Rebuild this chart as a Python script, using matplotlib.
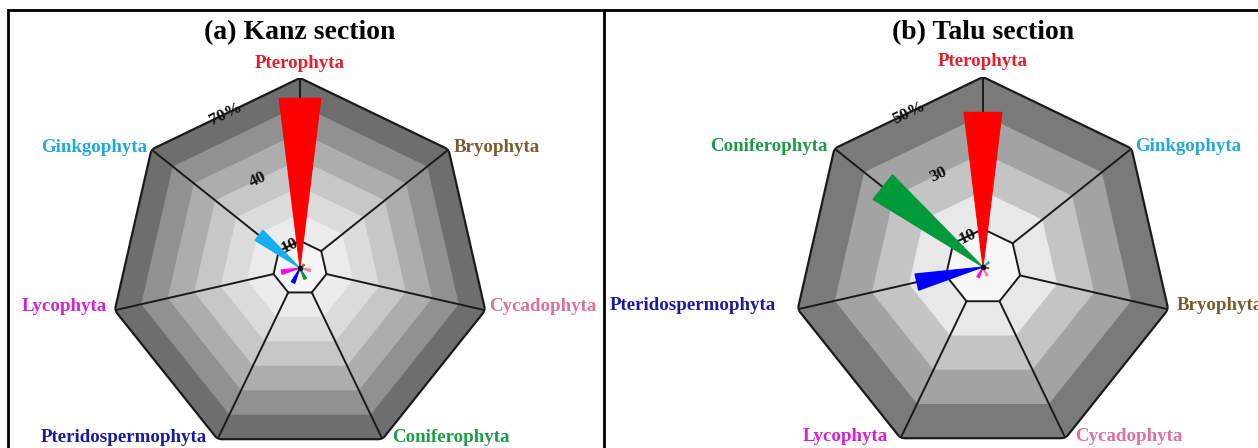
import numpy as np
import matplotlib
matplotlib.use("Agg")
import matplotlib.pyplot as plt
from matplotlib.lines import Line2D

plt.rcParams['font.family'] = ['Liberation Serif', 'DejaVu Serif']

# ---- data ----
cats_a = ['Pterophyta', 'Bryophyta', 'Cycadophyta', 'Coniferophyta',
          'Pteridospermophyta', 'Lycophyta', 'Ginkgophyta']
vals_a = [63, 2, 4, 4.5, 6, 7, 19.5]
ticks_a = [10, 40, 70]
rmax_a = 70

cats_b = ['Pterophyta', 'Ginkgophyta', 'Bryophyta', 'Cycadophyta',
          'Lycophyta', 'Pteridospermophyta', 'Coniferophyta']
vals_b = [41, 2, 1.5, 2.5, 3, 18, 34]
ticks_b = [10, 30, 50]
rmax_b = 50

label_colors = {
    'Pterophyta': '#e3202a', 'Bryophyta': '#7b5a2e', 'Cycadophyta': '#e0709a',
    'Coniferophyta': '#1e9a48', 'Pteridospermophyta': '#1a1aa0',
    'Lycophyta': '#d81ed8', 'Ginkgophyta': '#22a8e0',
}
wedge_colors = {
    'Pterophyta': '#ff0000', 'Bryophyta': '#8b5a2b', 'Cycadophyta': '#f080a0',
    'Coniferophyta': '#009a3a', 'Pteridospermophyta': '#0000ff',
    'Lycophyta': '#ff00ff', 'Ginkgophyta': '#12b0f0',
}

# grey level of each 10% band, inner to outer
greys_a = [0.96, 0.92, 0.86, 0.78, 0.68, 0.57, 0.43]
greys_b = [0.97, 0.91, 0.77, 0.64, 0.48]

W, H = 1258, 448
fig = plt.figure(figsize=(W / 100, H / 100), dpi=100)

# label offsets in pixels for vertex 0..6 (clockwise from top)
offs_a = [(0, 15, 'center'), (5, 2, 'left'), (4, 4, 'left'), (10, 2, 'left'),
          (-11, 2, 'right'), (-8, 4, 'right'), (-4, 2, 'right')]
offs_b = [(0, 15, 'center'), (4, 2, 'left'), (8, 4, 'left'), (10, 2, 'left'),
          (-13, 2, 'right'), (-22, 4, 'right'), (-7, 2, 'right')]


def draw_panel(cx, cy, R, cats, vals, rmax, ticks, greys, offs, title):
    ax = fig.add_axes([(cx - R) / W, (H - cy - R) / H, 2 * R / W, 2 * R / H],
                      projection='polar')
    ax.set_theta_zero_location('N')
    ax.set_theta_direction(-1)
    ax.set_ylim(0, rmax)
    ax.axis('off')

    n = len(cats)
    theta = np.arange(n) * 2 * np.pi / n
    ring = np.append(theta, theta[0])

    for k in range(len(greys), 0, -1):
        g = greys[k - 1]
        ax.fill(ring, [k * 10] * (n + 1), color=(g, g, g), lw=0, zorder=1)

    # spokes and outlines
    for t in theta:
        ax.plot([t, t], [10, rmax], color='#1a1a1a', lw=1.4, zorder=2)
    ax.plot(ring, [10] * (n + 1), color='#1a1a1a', lw=1.4, zorder=2)
    ax.plot(ring, [rmax] * (n + 1), color='#1a1a1a', lw=1.6, zorder=2)

    # wedges
    hw = np.deg2rad(7)
    for t, c, v in zip(theta, cats, vals):
        ax.fill([t, t - hw, t + hw, t], [0, v, v, 0],
                color=wedge_colors[c], lw=0.8, ec=wedge_colors[c], zorder=3)
    ax.plot([0], [0], 'o', color='black', ms=3, zorder=4)

    # radial tick labels along the edge between first and last vertex
    tl = -np.pi / n
    for i, tv in enumerate(ticks):
        s = f'{tv}%' if i == len(ticks) - 1 else f'{tv}'
        ax.text(tl, tv * np.cos(np.pi / n), s, rotation=180 / n,
                ha='center', va='center', fontsize=12.5, fontweight='bold',
                color='#111111', zorder=5)

    # category labels
    for t, c, (dx, dy, ha) in zip(theta, cats, offs):
        ax.annotate(c, xy=(t, rmax), xytext=(dx, dy),
                    textcoords='offset pixels', ha=ha, va='center',
                    fontsize=13.6, fontweight='bold',
                    color=label_colors[c], annotation_clip=False)

    fig.text(cx / W, 1 - 33 / H, title, ha='center', va='center',
             fontsize=20, fontweight='bold')


draw_panel(300, 268, 190, cats_a, vals_a, rmax_a, ticks_a, greys_a, offs_a,
           '(a) Kanz section')
draw_panel(983, 267, 190, cats_b, vals_b, rmax_b, ticks_b, greys_b, offs_b,
           '(b) Talu section')

# panel frames
for xs, ys in [([8 / W, 8 / W], [0, 1 - 10 / H]),
               ([8 / W, 1], [1 - 10 / H, 1 - 10 / H]),
               ([604 / W, 604 / W], [0, 1 - 10 / H])]:
    fig.add_artist(Line2D(xs, ys, color='black', lw=2))

fig.savefig('out.png', dpi=100)
